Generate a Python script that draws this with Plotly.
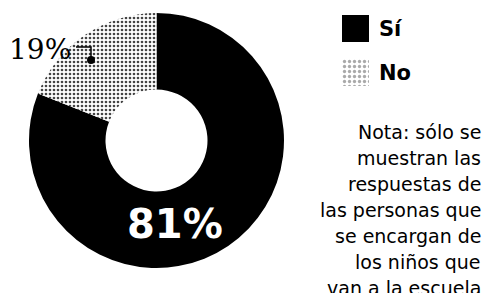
import plotly.graph_objects as go

labels = ["Sí", "No"]
values = [81, 19]
colors = ["#000000", "#ffffff"]
note_lines = ["Nota: sólo se", "muestran las", "respuestas de", "las personas que",
              "se encargan de", "los niños que", "van a la escuela"]

W, H = 485, 293

def px(x):
    return x / W

def py(y):
    return 1 - y / H

fig = go.Figure()
fig.add_trace(go.Pie(
    labels=labels, values=values, hole=0.4, sort=False, direction="clockwise",
    rotation=0, textinfo="none", showlegend=False, hoverinfo="label+percent",
    marker=dict(colors=colors, line=dict(width=0),
                pattern=dict(shape=["", "."], fgcolor="#444444", bgcolor="#ffffff",
                             size=4, solidity=0.35)),
    domain=dict(x=[26 / W, 287 / W], y=[1 - 268 / H, 1 - 13 / H]),
))

leg_y = [29, 73]
for i, (lab, yy) in enumerate(zip(labels, leg_y)):
    ax = i + 1
    fig.add_trace(go.Bar(x=[0], y=[1], width=[1], showlegend=False, hoverinfo="skip",
                         marker=dict(color=colors[i], line=dict(width=0),
                                     pattern=dict(shape="" if i == 0 else ".",
                                                  fgcolor="#555555", bgcolor="#ffffff",
                                                  size=5, solidity=0.35)),
                         xaxis=f"x{ax}", yaxis=f"y{ax}"))
    fig.update_layout(**{
        f"xaxis{ax}": dict(domain=[px(342), px(369)], range=[-0.5, 0.5], visible=False,
                           fixedrange=True, anchor=f"y{ax}"),
        f"yaxis{ax}": dict(domain=[py(yy + 13), py(yy - 14)], range=[0, 1], visible=False,
                           fixedrange=True, anchor=f"x{ax}"),
    })

annotations = []
annotations.append(dict(x=px(175), y=py(224), xref="paper", yref="paper", showarrow=False,
                        xanchor="center", yanchor="middle",
                        text=f"<b>{values[0]}%</b>",
                        font=dict(family="DejaVu Sans", size=40, color="white")))
annotations.append(dict(x=px(73), y=py(50), xref="paper", yref="paper", showarrow=False,
                        xanchor="right", yanchor="middle", text=f"{values[1]}%",
                        font=dict(family="DejaVu Serif", size=28, color="black")))

shapes = [
    dict(type="path", xref="paper", yref="paper",
         path=f"M {px(76)},{py(47)} L {px(91)},{py(47)} L {px(91)},{py(58)}",
         line=dict(color="black", width=1.5)),
    dict(type="circle", xref="paper", yref="paper", x0=px(87), x1=px(95), y0=py(64), y1=py(56),
         fillcolor="black", line=dict(width=0)),
]

for lab, yy in zip(labels, leg_y):
    annotations.append(dict(x=px(377), y=py(yy), xref="paper", yref="paper", showarrow=False,
                            xanchor="left", yanchor="middle", text=f"<b>{lab}</b>",
                            font=dict(family="DejaVu Sans", size=21, color="black")))

for i, line in enumerate(note_lines):
    annotations.append(dict(x=px(483), y=py(132 + 26 * i), xref="paper", yref="paper",
                            showarrow=False, xanchor="right", yanchor="middle", text=line,
                            font=dict(family="DejaVu Sans", size=19, color="black")))

fig.update_layout(width=W, height=H, margin=dict(l=0, r=0, t=0, b=0),
                  paper_bgcolor="white", plot_bgcolor="white", bargap=0,
                  annotations=annotations, shapes=shapes)

fig.write_html("out.html", config={"displayModeBar": False},
               post_script="document.body.style.margin='0';")
